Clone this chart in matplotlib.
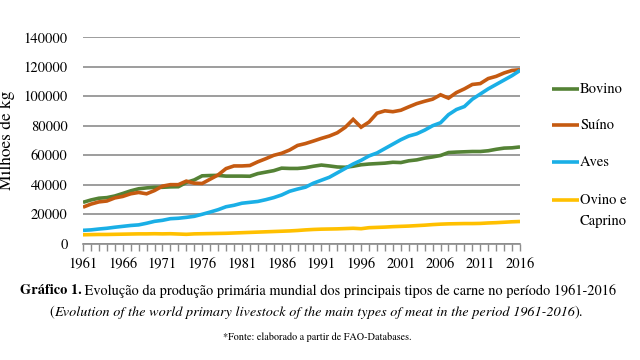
import matplotlib
matplotlib.use("Agg")
import matplotlib.pyplot as plt
from matplotlib.lines import Line2D
import numpy as np

years = list(range(1961, 2017))

bovino = [28.0, 29.6, 30.8, 31.2, 32.3, 34.0, 35.8, 37.2, 37.8, 38.2, 38.2, 38.5, 38.6, 41.5,
          43.2, 46.0, 46.2, 46.3, 45.8, 45.8, 45.8, 45.7, 47.5, 48.5, 49.5, 51.2, 51.0, 51.0,
          51.5, 52.5, 53.3, 52.7, 52.0, 51.8, 52.5, 53.5, 54.0, 54.3, 54.6, 55.2, 55.0, 56.2,
          56.8, 58.0, 58.8, 59.8, 61.8, 62.1, 62.3, 62.5, 62.5, 63.0, 64.0, 64.8, 65.0, 65.6]
suino = [24.7, 26.8, 28.3, 28.9, 31.0, 32.0, 33.8, 34.7, 33.8, 36.0, 39.0, 40.0, 40.0, 42.4,
         41.0, 40.8, 43.7, 46.6, 50.9, 52.7, 52.7, 53.0, 55.5, 57.6, 59.9, 61.3, 63.5, 66.6,
         67.9, 69.6, 71.4, 73.0, 75.2, 78.9, 84.3, 79.0, 82.5, 88.5, 90.1, 89.5, 90.5, 92.8,
         95.0, 96.6, 98.0, 101.0, 98.7, 102.5, 105.0, 108.0, 108.6, 112.0, 113.5, 115.8, 117.5, 118.0]
aves = [9.0, 9.3, 9.9, 10.4, 11.1, 11.7, 12.3, 12.7, 13.8, 15.1, 15.8, 16.9, 17.2, 17.8,
        18.5, 19.9, 21.4, 23.0, 25.0, 26.0, 27.4, 28.0, 28.6, 29.8, 31.2, 33.0, 35.5, 37.0,
        38.3, 41.0, 43.0, 45.0, 48.0, 51.0, 54.0, 56.5, 59.5, 61.5, 64.5, 67.5, 70.5, 73.0,
        74.5, 77.0, 80.0, 82.0, 87.5, 91.0, 93.0, 98.0, 101.5, 105.0, 108.0, 111.0, 114.0, 117.5]
ovino = [6.0, 6.1, 6.2, 6.2, 6.3, 6.4, 6.5, 6.6, 6.6, 6.7, 6.6, 6.7, 6.5, 6.3,
         6.6, 6.7, 6.8, 6.9, 7.0, 7.2, 7.4, 7.6, 7.8, 8.0, 8.2, 8.4, 8.6, 8.9,
         9.3, 9.6, 9.8, 9.9, 10.0, 10.2, 10.4, 10.1, 10.8, 11.0, 11.2, 11.5, 11.7, 11.9,
         12.2, 12.5, 12.9, 13.2, 13.4, 13.5, 13.6, 13.6, 13.7, 14.0, 14.2, 14.5, 14.8, 15.0]

series_names = ["Bovino", "Suíno", "Aves", "Ovino e\nCaprino"]
series_vals = [bovino, suino, aves, ovino]
colors = ["#548235", "#C55A11", "#1AAFE6", "#FFC000"]

yticks = [0, 20000, 40000, 60000, 80000, 100000, 120000, 140000]
xlabels = list(range(1961, 2017, 5))

plt.rcParams['font.family'] = ['TeX Gyre Termes', 'Liberation Serif', 'DejaVu Serif']

W, H = 640, 360
fig = plt.figure(figsize=(6.4, 3.6), dpi=100)
ax = fig.add_axes([83/W, 1-243.6/H, (520-83)/W, (243.6-37.3)/H])

for name, vals, c in zip(series_names, series_vals, colors):
    ax.plot(years, np.array(vals) * 1000, color=c, lw=2.6, label=name,
            solid_capstyle='butt', solid_joinstyle='miter')

ax.set_xlim(1961, 2016)
ax.set_ylim(0, 140000)
ax.set_yticks(yticks)
ax.set_yticklabels([str(v) for v in yticks])
ax.yaxis.grid(True, color="#8C8C8C", lw=1.2)
ax.set_axisbelow(True)
ax.tick_params(axis='y', length=0, pad=11, labelsize=10.5)
ax.set_xticks(years, minor=True)
ax.set_xticks(xlabels)
ax.set_xticklabels([str(v) for v in xlabels])
ax.tick_params(axis='x', which='both', length=5, color="#8C8C8C", width=1, direction='out',
               labelsize=10.5, pad=5)
for s in ['top', 'right', 'left']:
    ax.spines[s].set_visible(False)
ax.spines['bottom'].set_color("#8C8C8C")
ax.spines['bottom'].set_linewidth(1.2)
ax.set_ylabel("Milhões de kg", fontsize=12.5, labelpad=6)

# legend (manual layout, right side)
leg_rows = [89, 125, 162, 200]
for name, c, yrow in zip(series_names, colors, leg_rows):
    fig.add_artist(Line2D([552/W, 579/W], [1-yrow/H, 1-yrow/H], color=c, lw=2.6,
                          solid_capstyle='butt'))
    for k, part in enumerate(name.split("\n")):
        fig.text(580/W, 1-(yrow + 21*k)/H, part, fontsize=10.5, ha='left', va='center')

# caption
fig.canvas.draw()
r = fig.canvas.get_renderer()

def line_parts(parts, y, fs, x0, x1):
    texts = []
    for s, kw in parts:
        t = fig.text(0, y, s, fontsize=fs, va='center', ha='left', **kw)
        texts.append(t)
    widths = [t.get_window_extent(r).width for t in texts]
    scale = (x1 - x0) / sum(widths)
    for t in texts:
        t.set_fontsize(fs * scale)
    widths = [t.get_window_extent(r).width for t in texts]
    x = (x0 + x1 - sum(widths)) / 2
    for t, w in zip(texts, widths):
        t.set_x(x / W)
        x += w

line_parts([("Gráfico 1.", dict(fontweight='bold')),
            (" Evolução da produção primária mundial dos principais tipos de carne no período 1961-2016", {})],
           1 - 291/H, 12, 21, 615)
line_parts([("(", {}),
            ("Evolution of the world primary livestock of the main types of meat in the period 1961-2016", dict(style='italic')),
            (").", {})],
           1 - 313/H, 12, 49, 583)
line_parts([("*Fonte: elaborado a partir de FAO-Databases.", {})], 1 - 337/H, 9, 222, 412)

fig.savefig("out.png", dpi=100)
